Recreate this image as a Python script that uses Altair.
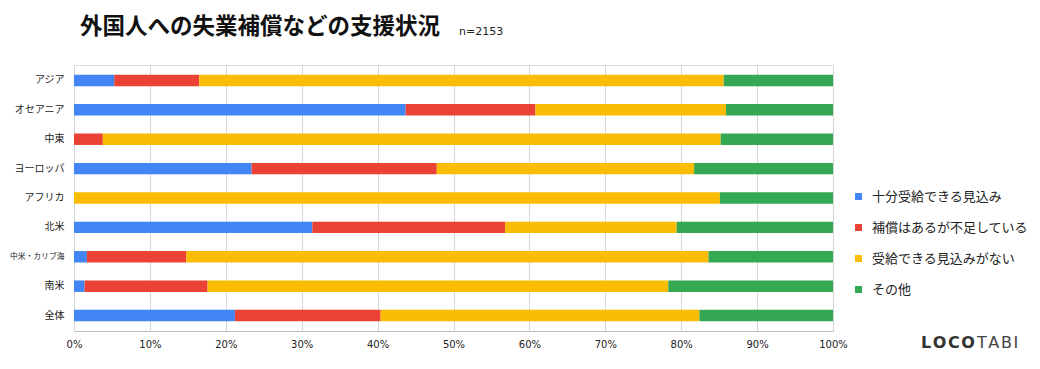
import altair as alt
import pandas as pd

regions = ["アジア", "オセアニア", "中東", "ヨーロッパ", "アフリカ", "北米", "中米・カリブ海", "南米", "全体"]
categories = ["十分受給できる見込み", "補償はあるが不足している", "受給できる見込みがない", "その他"]
colors = ["#4285F4", "#EA4335", "#FBBC04", "#34A853"]
sufficient = [5.3, 43.7, 0.0, 23.4, 0.0, 31.4, 1.7, 1.4, 21.2]
insufficient = [11.2, 17.1, 3.8, 24.4, 0.0, 25.4, 13.1, 16.2, 19.2]
no_prospect = [69.1, 25.1, 81.4, 33.9, 85.1, 22.6, 68.8, 60.7, 42.0]
other = [14.4, 14.1, 14.8, 18.3, 14.9, 20.6, 16.4, 21.7, 17.6]
tick_values = [0, 0.1, 0.2, 0.3, 0.4, 0.5, 0.6, 0.7, 0.8, 0.9, 1.0]

series = [sufficient, insufficient, no_prospect, other]
rows = []
for ci, (cat, vals) in enumerate(zip(categories, series)):
    for r, v in zip(regions, vals):
        rows.append({"region": r, "category": cat, "order": ci, "value": v / 100})
df = pd.DataFrame(rows)

JP = "Noto Sans CJK JP"

bars = alt.Chart(df).mark_bar().encode(
    x=alt.X("value:Q", stack="zero",
            scale=alt.Scale(domain=[0, 1], nice=False),
            axis=alt.Axis(format=".0%", values=tick_values, title=None, grid=True,
                          gridColor="#d6d6d6", domainColor="#bdbdbd", ticks=False,
                          labelFont="DejaVu Sans", labelFontSize=10, labelColor="#222",
                          labelPadding=8, labelFlush=False)),
    y=alt.Y("region:N", sort=regions,
            scale=alt.Scale(paddingInner=0.61, paddingOuter=0.33),
            axis=alt.Axis(title=None, ticks=False, domainColor="#d6d6d6",
                          labelFont=JP, labelColor="#222", labelPadding=10,
                          labelFontSize={"condition": {"test": "datum.value == '中米・カリブ海'", "value": 7.8}, "value": 10})),
    color=alt.Color("category:N", sort=categories,
                    scale=alt.Scale(domain=categories, range=colors),
                    legend=alt.Legend(title=None, orient="none", legendX=778, legendY=125,
                                      symbolType="square", symbolSize=49, symbolStrokeWidth=0,
                                      labelFont=JP, labelFontSize=13, labelColor="#222",
                                      labelOffset=7, rowPadding=17, padding=0, labelLimit=300)),
    order=alt.Order("order:Q"),
)

title_df = pd.DataFrame({"t": ["外国人への失業補償などの支援状況"]})
title = alt.Chart(title_df).mark_text(align="left", baseline="middle", font=JP,
                                      fontSize=22.5, fontWeight="bold", color="#111").encode(
    text="t:N", x=alt.value(6), y=alt.value(-38))

n_df = pd.DataFrame({"t": ["n=2153"]})
ntext = alt.Chart(n_df).mark_text(align="left", baseline="middle", font="DejaVu Sans",
                                  fontSize=11, color="#222").encode(
    text="t:N", x=alt.value(385), y=alt.value(-33))

loco_df = pd.DataFrame({"t": ["L\u200aO\u200aC\u200aO"]})
loco = alt.Chart(loco_df).mark_text(align="left", baseline="middle", font="DejaVu Sans",
                                    fontSize=16, fontWeight="bold", color="#333").encode(
    text="t:N", x=alt.value(847), y=alt.value(278))

tabi_df = pd.DataFrame({"t": ["T\u200aA\u200aB\u200aI"]})
tabi = alt.Chart(tabi_df).mark_text(align="left", baseline="middle", font="DejaVu Sans",
                                    fontSize=16, fontWeight="normal", color="#444").encode(
    text="t:N", x=alt.value(903), y=alt.value(278))

chart = alt.layer(bars, title, ntext, loco, tabi).properties(
    width=759, height=266,
    autosize=alt.AutoSizeParams(type="none"),
    padding={"left": 66, "top": 57, "right": 198, "bottom": 28},
).configure_view(stroke=None).configure(background="white")

chart.save("out.html", embed_options={"renderer": "svg", "actions": False})
